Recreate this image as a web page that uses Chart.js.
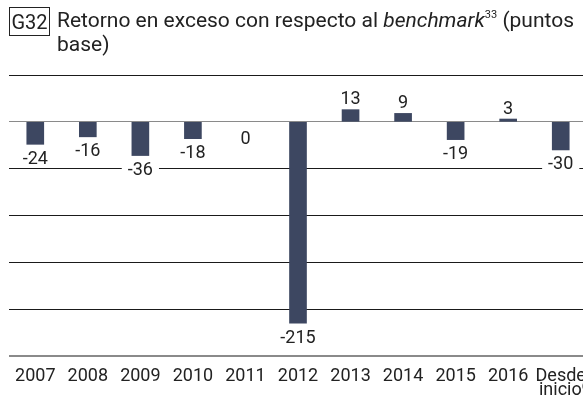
<!DOCTYPE html>
<html>
<head>
<meta charset="utf-8">
<script src="https://cdn.jsdelivr.net/npm/chart.js@4/dist/chart.umd.min.js"></script>
<style>
    html, body { margin: 0; padding: 0; background: #fff; overflow: hidden; }
    #wrap { position: relative; width: 587px; height: 402px; }
    #chart { position: absolute; left: 0; top: 0; }
    .tag {
        position: absolute; left: 9px; top: 7px; width: 39px; height: 27px;
        border: 1px solid #222; font: 20px Roboto, sans-serif; color: #222;
        line-height: 28px; text-align: center;
    }
    .title {
        position: absolute; left: 57px; top: 8px; white-space: nowrap;
        font: 21px Roboto, sans-serif; line-height: 24px; color: #222;
    }
    .title sup { font-size: 11px; vertical-align: 9px; line-height: 0; }
</style>
</head>
<body>
<div id="wrap">
    <canvas id="chart" width="587" height="402"></canvas>
    <div class="tag">G32</div>
    <div class="title">Retorno en exceso con respecto al <i>benchmark</i><sup>33</sup> (puntos<br>base)</div>
</div>
<script>
// Categories and excess return in basis points
const years = ['2007', '2008', '2009', '2010', '2011', '2012', '2013', '2014', '2015', '2016',
    ['Desde', '\u2002\u2009inicio⁽ᵃ⁾']];
const excess = [-24, -16, -36, -18, 0, -215, 13, 9, -19, 3, -30];
const yTicks = [50, 0, -50, -100, -150, -200, -250];

const barColor = '#3d4761';
const textColor = '#222';

// Value labels with a white backing so they break the grid lines
const valueLabels = {
    id: 'valueLabels',
    afterDatasetsDraw(chart) {
        const ctx = chart.ctx;
        const meta = chart.getDatasetMeta(0);
        ctx.save();
        ctx.font = '18px Roboto';
        ctx.textAlign = 'center';
        ctx.textBaseline = 'middle';
        meta.data.forEach((bar, i) => {
            const v = excess[i];
            let y;
            if (v > 0) y = bar.y - 11;
            else if (v === 0) y = bar.y + 17;
            else y = bar.y + 14;
            const text = String(v);
            const w = ctx.measureText(text).width + 12;
            ctx.fillStyle = '#fff';
            ctx.fillRect(bar.x - w / 2, y - 8, w, 16);
            ctx.fillStyle = textColor;
            ctx.fillText(text, bar.x, y + 1);
        });
        ctx.restore();
    }
};

new Chart(document.getElementById('chart'), {
    type: 'bar',
    data: {
        labels: years,
        datasets: [{
            data: excess,
            backgroundColor: ctx => (excess[ctx.dataIndex] === 0 ? 'rgba(0,0,0,0)' : barColor),
            barThickness: 17
        }]
    },
    options: {
        responsive: false,
        animation: false,
        layout: { padding: { top: 75, left: 9, right: 0, bottom: 0 } },
        plugins: {
            legend: { display: false },
            tooltip: { enabled: false }
        },
        scales: {
            x: {
                grid: { display: false, drawTicks: false },
                border: { display: false },
                ticks: {
                    color: textColor,
                    font: { family: 'Roboto', size: 18, lineHeight: 0.8 },
                    padding: 13,
                    maxRotation: 0,
                    autoSkip: false
                },
                afterFit(scale) {
                    scale.height = 46;
                    // let the last label run past the canvas edge
                    scale.paddingLeft = 0;
                    scale.paddingRight = 0;
                }
            },
            y: {
                min: -250,
                max: 50,
                afterBuildTicks(scale) {
                    scale.ticks = yTicks.map(v => ({ value: v }));
                },
                ticks: { display: false },
                border: { display: false },
                grid: {
                    drawTicks: false,
                    color(ctx) {
                        const v = ctx.tick.value;
                        if (v === 0 || v === -250) return '#8a8a8a';
                        return '#1a1a1a';
                    },
                    lineWidth(ctx) {
                        return ctx.tick.value === -250 ? 2 : 1;
                    }
                },
                afterFit(scale) { scale.width = 0; }
            }
        }
    },
    plugins: [valueLabels]
});
</script>
</body>
</html>
